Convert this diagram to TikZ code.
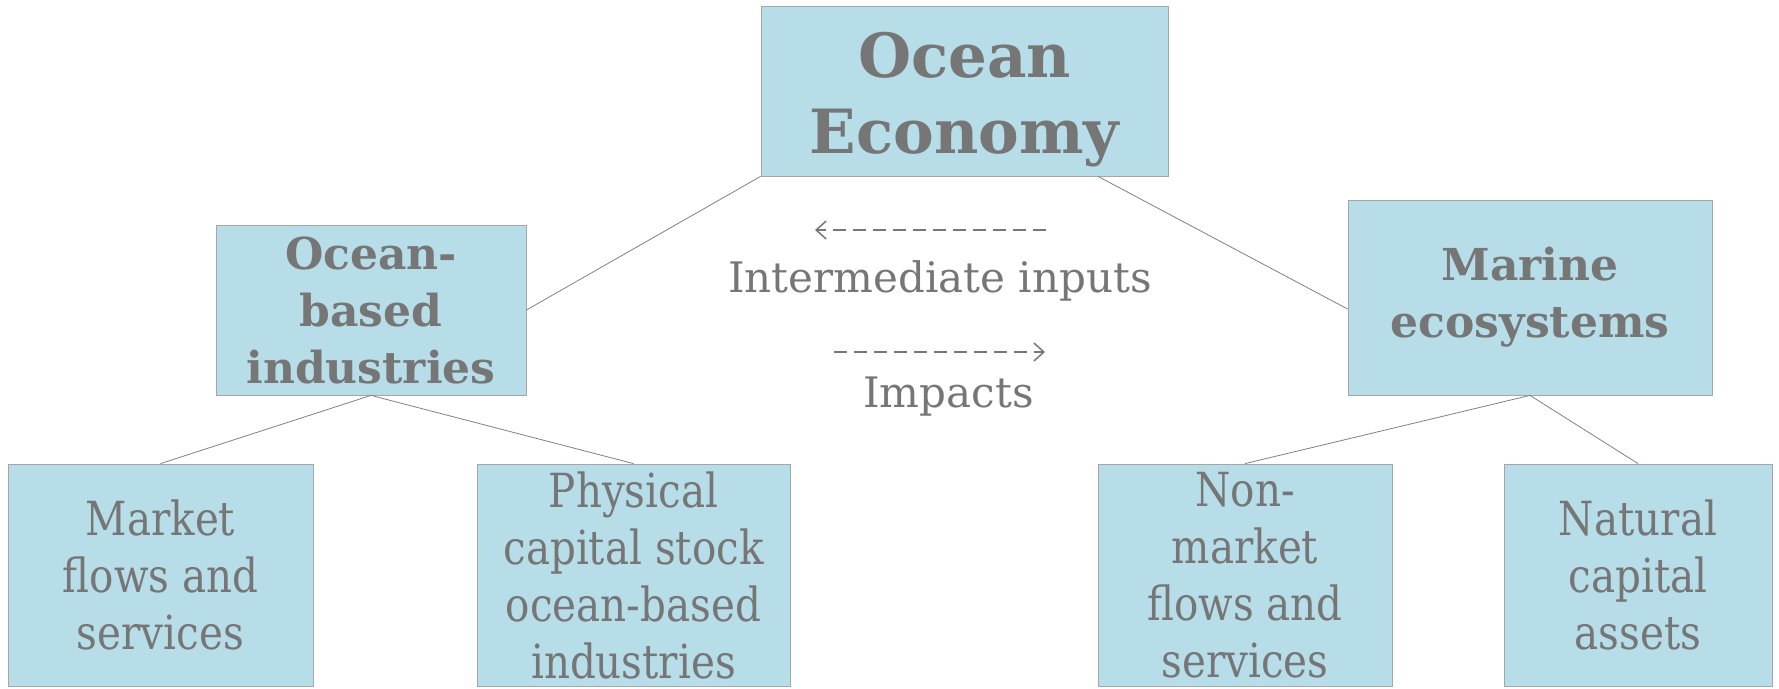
\documentclass[tikz,border=0pt]{standalone}
\usepackage{fontspec}
\setmainfont{DejaVu Serif}
\newfontfamily\condfont[FakeStretch=0.86]{DejaVu Serif}
\usetikzlibrary{arrows.meta}
\definecolor{boxfill}{HTML}{B7DDE8}
\definecolor{boxline}{HTML}{A6A6A6}
\definecolor{txt}{HTML}{767676}
\definecolor{conn}{HTML}{808080}
\tikzset{
  box/.style={draw=boxline, line width=0.8pt, fill=boxfill, text=txt, align=center, inner sep=0pt},
  topbox/.style={box, font=\fontsize{61}{76}\selectfont\bfseries},
  midbox/.style={box, font=\fontsize{44}{57}\selectfont\bfseries},
  lowbox/.style={box, font=\condfont\fontsize{47}{57}\selectfont},
  link/.style={draw=conn, line width=0.8pt},
  flow/.style={draw=txt, line width=1.5pt, dash pattern=on 13pt off 7pt, -{Straight Barb[length=10pt,width=18pt,line width=1.5pt]}},
  lbl/.style={text=txt, font=\fontsize{42}{50}\selectfont, inner sep=0pt}
}
\begin{document}
\begin{tikzpicture}[x=1pt,y=-1pt]
\useasboundingbox (0,0) rectangle (1779,688);
\node[topbox, minimum width=407pt, minimum height=170pt] (top) at (964.5,91) {\rule{0pt}{62pt}Ocean\\Economy};
\node[midbox, minimum width=310pt, minimum height=170pt] (obi) at (371,310) {Ocean-\\based\\industries};
\node[midbox, minimum width=364pt, minimum height=195pt] (mar) at (1530,297.5) {Marine\\ecosystems};
\node[lowbox, minimum width=305pt, minimum height=222pt] (mkt) at (160.5,575) {Market\\flows and\\services};
\node[lowbox, minimum width=313pt, minimum height=222pt] (phy) at (633.5,575) {Physical\\capital stock\\ocean-based\\industries};
\node[lowbox, minimum width=294pt, minimum height=222pt] (non) at (1245,575) {Non-\\market\\flows and\\services};
\node[lowbox, minimum width=268pt, minimum height=222pt] (nat) at (1638,575) {Natural\\capital\\assets};
\draw[link] (top.south west) -- (obi.east);
\draw[link] ([xshift=133.5pt]top.south) -- ([yshift=-11.5pt]mar.west);
\draw[link] (obi.south) -- (mkt.north);
\draw[link] (obi.south) -- (phy.north);
\draw[link] (mar.south) -- (non.north);
\draw[link] (mar.south) -- (nat.north);
\coordinate (a1s) at (1046,230);
\coordinate (a1e) at (815,230);
\coordinate (a2s) at (834,352);
\coordinate (a2e) at (1045,352);
\draw[flow] (a1s) -- (a1e);
\draw[flow] (a2s) -- (a2e);
\node[lbl] (ii) at (940,281) {Intermediate inputs};
\node[lbl] (imp) at (948.5,397) {Impacts};
\end{tikzpicture}
\end{document}
